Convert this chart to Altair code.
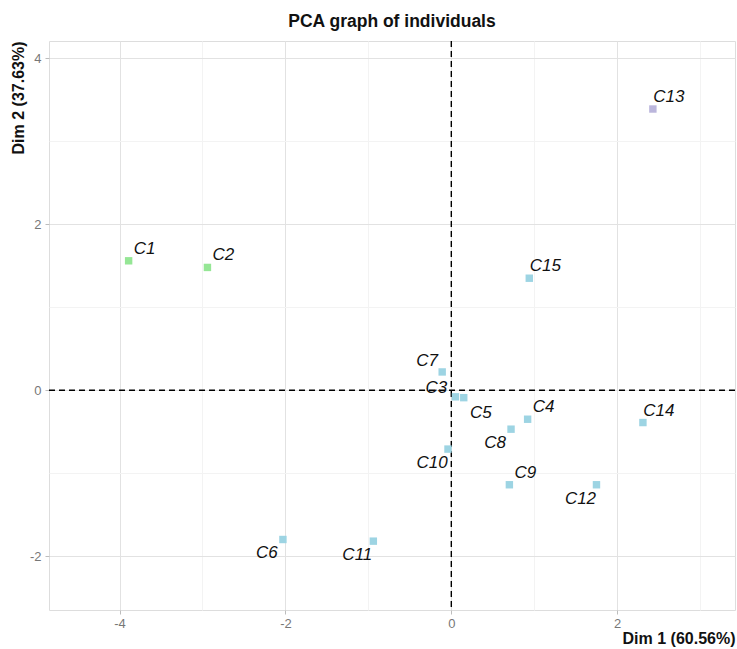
import altair as alt
import pandas as pd

# ---- data ----
names = ["C1", "C2", "C3", "C4", "C5", "C6", "C7", "C8", "C9", "C10",
         "C11", "C12", "C13", "C14", "C15"]
dim1 = [-3.89, -2.94, 0.05, 0.92, 0.15, -2.03, -0.11, 0.72, 0.70, -0.04,
        -0.94, 1.75, 2.43, 2.31, 0.94]
dim2 = [1.56, 1.48, -0.08, -0.35, -0.09, -1.80, 0.22, -0.47, -1.14, -0.71,
        -1.82, -1.14, 3.39, -0.39, 1.35]
group = ["g1", "g1", "g2", "g2", "g2", "g2", "g2", "g2", "g2", "g2",
         "g2", "g2", "g3", "g2", "g2"]
x_ticks = [-4, -3, -2, -1, 0, 1, 2, 3]
y_ticks = [-2, -1, 0, 1, 2, 3, 4]

df = pd.DataFrame({"name": names, "dim1": dim1, "dim2": dim2, "group": group})

# label placement (layout only, like ggrepel)
placement = {"C1": "ne", "C2": "ne", "C13": "ne", "C15": "ne", "C4": "ne",
             "C9": "ne", "C14": "ne", "C6": "sw", "C11": "sw", "C8": "sw",
             "C10": "sw", "C12": "sw", "C7": "nw", "C3": "w", "C5": "se"}
df["place"] = df["name"].map(placement)
offsets = {"ne": (16, -12), "sw": (-16, 14), "nw": (-15, -11),
           "w": (-19, -9), "se": (17, 15)}

font = "Liberation Sans"
W, H = 686, 569

xscale = alt.Scale(domain=[-4.85, 3.42], nice=False, zero=False)
yscale = alt.Scale(domain=[-2.65, 4.21], nice=False, zero=False)

odd = "datum.value % 2 !== 0"
grid_color = {"condition": {"test": odd, "value": "#f3f3f3"}, "value": "#e2e2e2"}
tick_color = {"condition": {"test": odd, "value": "transparent"}, "value": "#bdbdbd"}
label_expr = "datum.value % 2 === 0 ? '' + datum.value : ''"

xaxis = alt.Axis(values=x_ticks, grid=True, gridColor=grid_color, tickColor=tick_color,
                 labelExpr=label_expr, domain=False, tickSize=4, labelPadding=3,
                 labelColor="#777777", labelFontSize=13, labelFont=font,
                 title="Dim 1 (60.56%)", titleFont=font, titleFontSize=16,
                 titleFontWeight="bold", titleColor="#111111",
                 titleAnchor="end", titleAlign="right", titleBaseline="top",
                 titleX=W, titleY=20)
yaxis = alt.Axis(values=y_ticks, grid=True, gridColor=grid_color, tickColor=tick_color,
                 labelExpr=label_expr, domain=False, tickSize=4, labelPadding=4,
                 labelColor="#777777", labelFontSize=13, labelFont=font,
                 title="Dim 2 (37.63%)", titleFont=font, titleFontSize=16,
                 titleFontWeight="bold", titleColor="#111111",
                 titleAngle=-90, titleAlign="right", titleBaseline="middle",
                 titleX=-31, titleY=0)

base = alt.Chart(df)

points = base.mark_point(shape="square", filled=True, size=55, opacity=1).encode(
    x=alt.X("dim1:Q", scale=xscale, axis=xaxis),
    y=alt.Y("dim2:Q", scale=yscale, axis=yaxis),
    color=alt.Color("group:N", legend=None,
                    scale=alt.Scale(domain=["g1", "g2", "g3"],
                                    range=["#95e695", "#9dd4e3", "#bbb6dc"])),
)

label_layers = []
for key, (dx, dy) in offsets.items():
    label_layers.append(
        base.transform_filter(alt.datum.place == key).mark_text(
            font=font, fontSize=17, fontStyle="italic", color="#111111",
            align="center", baseline="middle", dx=dx, dy=dy,
        ).encode(x="dim1:Q", y="dim2:Q", text="name:N")
    )

zero = pd.DataFrame({"v": [0]})
vline = alt.Chart(zero).mark_rule(color="black", strokeDash=[6, 4], strokeWidth=1.4).encode(
    x=alt.X("v:Q"))
hline = alt.Chart(zero).mark_rule(color="black", strokeDash=[6, 4], strokeWidth=1.4).encode(
    y=alt.Y("v:Q"))

chart = alt.layer(vline, hline, points, *label_layers).properties(
    width=W, height=H,
    title=alt.TitleParams("PCA graph of individuals", font=font, fontSize=17.5,
                          fontWeight="bold", color="#111111", anchor="middle",
                          frame="group", offset=10),
    padding={"left": 49, "top": 41, "right": 2, "bottom": 39},
    autosize="none",
).configure_view(stroke="#d0d0d0", strokeWidth=1).configure(background="white")

chart.save("out.html", embed_options={"renderer": "svg", "actions": False})
